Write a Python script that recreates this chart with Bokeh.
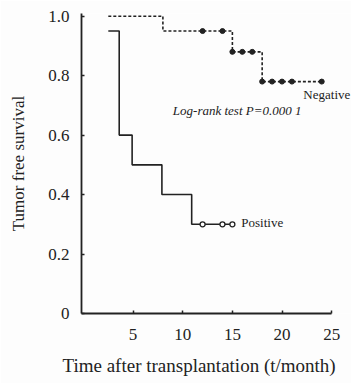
from bokeh.plotting import figure
from bokeh.models import Range1d, FixedTicker, Label, Title
from bokeh.embed import file_html
from bokeh.resources import INLINE

# Kaplan-Meier step data (time in months, survival)
neg_time = [2.5, 8, 8, 15, 15, 18, 18, 24]
neg_surv = [1.0, 1.0, 0.95, 0.95, 0.88, 0.88, 0.78, 0.78]
neg_cens_time = [12, 14, 15, 16, 17, 18, 19, 20, 21, 24]
neg_cens_surv = [0.95, 0.95, 0.88, 0.88, 0.88, 0.78, 0.78, 0.78, 0.78, 0.78]

pos_time = [2.5, 3.6, 3.6, 4.9, 4.9, 7.9, 7.9, 10.9, 10.9, 15]
pos_surv = [0.95, 0.95, 0.6, 0.6, 0.5, 0.5, 0.4, 0.4, 0.3, 0.3]
pos_cens_time = [12, 14, 15]
pos_cens_surv = [0.3, 0.3, 0.3]

x_ticks = [5, 10, 15, 20, 25]
y_ticks = [0, 0.2, 0.4, 0.6, 0.8, 1.0]
y_tick_labels = ["0", "0.2", "0.4", "0.6", "0.8", "1.0"]

SERIF = "Liberation Serif"
INK = "#222222"

p = figure(width=351, height=383, output_backend="svg", toolbar_location=None,
           x_range=Range1d(-0.2, 27.0), y_range=Range1d(0, 1.009),
           min_border_left=81, min_border_right=0, min_border_top=13, min_border_bottom=70)
p.frame_width = 270
p.frame_height = 300
p.outline_line_color = None
p.grid.visible = False
p.background_fill_color = "#fdfdfd"
p.border_fill_color = "#fdfdfd"

p.line(neg_time, neg_surv, line_color=INK, line_width=1.6, line_dash="3 2")
p.scatter(neg_cens_time, neg_cens_surv, size=5, fill_color=INK, line_color=INK)
p.line(pos_time, pos_surv, line_color=INK, line_width=1.6)
p.scatter(pos_cens_time, pos_cens_surv, size=5, fill_color="white", line_color=INK, line_width=1.3)

for ax in (p.xaxis[0], p.yaxis[0]):
    ax.axis_line_color = INK
    ax.axis_line_width = 1.8
    ax.major_tick_line_color = INK
    ax.major_tick_line_width = 1.5
    ax.major_tick_in = 3
    ax.major_tick_out = 0
    ax.minor_tick_line_color = None
    ax.major_label_text_font = SERIF
    ax.major_label_text_font_size = "17px"
    ax.major_label_text_color = INK
    ax.axis_label_text_font = SERIF
    ax.axis_label_text_font_style = "normal"
    ax.axis_label_text_font_size = "17px"
    ax.axis_label_text_color = INK

p.xaxis.bounds = (-0.2, 25)
p.xaxis.ticker = FixedTicker(ticks=x_ticks)
p.yaxis.ticker = FixedTicker(ticks=y_ticks)
p.yaxis.major_label_overrides = {t: l for t, l in zip(y_ticks, y_tick_labels)}
p.xaxis.major_label_standoff = 15
p.yaxis.major_label_standoff = 12
p.yaxis.axis_label = "Tumor free survival"
p.yaxis.axis_label_standoff = 17

p.add_layout(Title(text="Time after transplantation (t/month)", align="left", offset=-19,
                   text_font=SERIF, text_font_size="19px", text_font_style="normal",
                   text_color=INK, standoff=20), "below")

p.add_layout(Label(x=22.15, y=0.735, text="Negative", text_font=SERIF, text_font_size="13px",
                   text_color=INK, text_baseline="middle"))
p.add_layout(Label(x=9.0, y=0.684, text="Log-rank test P=0.000 1", text_font=SERIF,
                   text_font_style="italic", text_font_size="13px", text_color=INK,
                   text_baseline="middle"))
p.add_layout(Label(x=15.9, y=0.305, text="Positive", text_font=SERIF, text_font_size="13px",
                   text_color=INK, text_baseline="middle"))

open("out.html", "w").write(file_html(p, INLINE))
